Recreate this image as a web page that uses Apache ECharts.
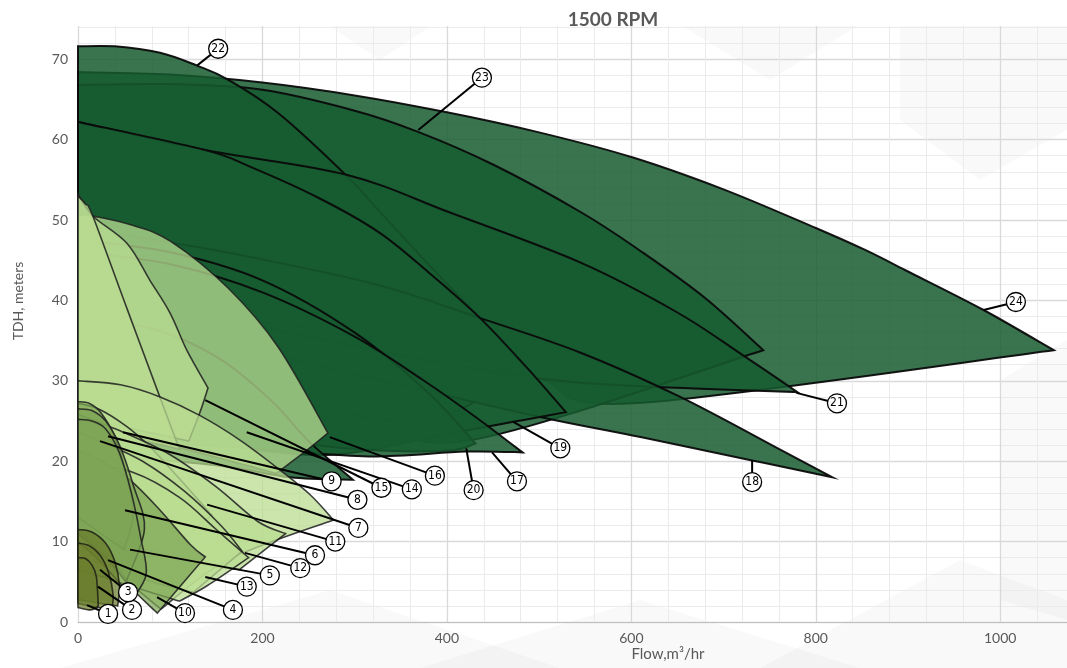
<!DOCTYPE html>
<html><head><meta charset="utf-8">
<script src="https://cdn.jsdelivr.net/npm/echarts@6/dist/echarts.min.js"></script>
<style>html,body{margin:0;padding:0;background:#fff}#c{width:1067px;height:668px}</style>
</head><body><div id="c"></div>
<script>
// ---- data (Flow m3/hr, TDH m) ----
const r24 = [[0,68.4],[100,68.1],[200,67.1],[300,65.5],[400,63.4],[500,60.9],[601,57.8],[700,53.8],[800,49.0],[853,46.3],[900,43.6],[982,38.8],[1058,33.8],[602,27.2],[500,30.3],[400,33.0],[250,36.5],[100,38.5],[0,39.5]];
const r23 = [[0,66.8],[100,66.9],[200,66.2],[300,63.6],[368,61.0],[450,56.9],[545,51.0],[608,46.3],[680,40.3],[743,33.8],[425,22.6],[300,25.5],[150,28.0],[0,29.5]];
const r22 = [[0,71.6],[40,71.6],[89,70.8],[129,69.2],[162,67.5],[217,63.3],[293,55.3],[326,51.2],[380,44.5],[436,37.8],[487,31.6],[380,25.0],[250,27.0],[120,28.5],[0,29.5]];
const r21 = [[0,62.2],[138,58.7],[292,55.6],[404,50.9],[545,44.7],[650,38.5],[722,33.1],[780,28.6],[675,29.0],[566,29.6],[499,30.3],[404,32.0],[241,35.7],[0,41.3]];
const r20 = [[0,47.5],[100,46.0],[200,42.5],[300,36.0],[380,28.5],[431,22.2],[400,21.3],[300,21.5],[150,23.5],[0,25.5]];
const r19 = [[0,62.2],[138,58.7],[187,56.6],[260,52.8],[326,48.5],[380,43.5],[436,37.8],[487,31.6],[529,26.1],[472,24.9],[400,23.4],[274,20.8],[150,22.0],[0,24.0]];
const r18 = [[0,49.0],[105,47.1],[187,45.4],[326,41.9],[436,37.8],[545,33.5],[653,28.0],[762,21.4],[818,18.0],[731,20.1],[610,23.0],[501,25.5],[349,29.5],[187,33.8],[0,37.6]];
const r17 = [[0,46.0],[100,44.5],[200,41.0],[300,35.5],[374,30.1],[430,25.6],[482,21.1],[420,21.2],[315,20.6],[200,21.5],[0,23.0]];
const r16 = [[0,50.6],[16,50.5],[60,49.3],[101,47.3],[163,41.5],[217,34.2],[271,23.5],[244,21.0],[215,18.5],[150,20.5],[80,22.5],[0,24.0]];
const r15 = [[0,53.2],[16,50.5],[53,47.1],[78,42.5],[100,38.4],[118,33.8],[141,29.1],[132,26.0],[120,22.5],[80,23.5],[40,24.5],[0,25.0]];
const r14 = [[0,38.0],[80,36.5],[150,33.0],[210,27.5],[250,22.5],[298,17.7],[230,18.0],[150,19.5],[0,21.0]];
const r13 = [[0,20.0],[60,18.6],[110,15.5],[150,11.5],[185,8.0],[140,4.5],[110,2.6],[70,4.0],[30,5.5],[0,6.5]];
const r12 = [[0,30.0],[46,29.5],[89,28.0],[132,25.7],[176,22.6],[219,18.9],[252,15.8],[277,12.7],[162,7.7],[90,1.6],[60,4.5],[40,7.0],[0,9.0]];
const r11 = [[0,27.2],[24,26.4],[53,24.3],[78,21.8],[111,17.7],[145,13.3],[113,10.4],[81,8.1],[40,8.8],[0,9.5]];
const r10 = [[0,21.4],[24,20.1],[56,17.7],[89,13.9],[122,9.6],[138,8.1],[86,1.1],[60,4.0],[42,6.8],[13,10.2],[0,11.4]];
const r9 = [[0,25.8],[49,23.6],[100,20.8],[150,16.8],[195,12.5],[225,11.0],[175,6.5],[120,7.5],[60,9.5],[0,11.0]];
const r8 = [[0,53.0],[8,52.0],[16,50.5],[53,39.0],[90,27.6],[110,21.5],[70,22.5],[33,23.1],[0,24.0]];
const r7 = [[0,23.6],[24,22.5],[70,20.0],[115,16.3],[155,12.0],[178,8.8],[125,3.7],[80,5.0],[40,6.8],[0,8.0]];
const r6 = [[0,27.4],[12,27.2],[25,26.0],[40,23.0],[52,18.5],[60,13.5],[50,9.0],[25,11.0],[0,13.0]];
const r5 = [[0,26.5],[15,26.3],[30,25.0],[45,22.0],[60,17.0],[72,11.5],[52,5.0],[30,8.0],[0,11.0]];
const r4 = [[0,25.2],[15,25.0],[30,24.0],[45,21.0],[58,16.0],[68,10.5],[74,6.0],[60,3.0],[40,5.5],[20,8.0],[0,10.0]];
const r3 = [[0,11.5],[15,11.2],[30,9.8],[40,7.5],[45,4.5],[43,2.0],[25,2.3],[0,2.8]];
const r2 = [[0,9.8],[12,9.5],[24,8.3],[33,6.2],[38,3.5],[37,1.6],[22,1.8],[0,2.3]];
const r1 = [[0,8.0],[8,7.9],[15,7.1],[20,5.6],[22,2.0],[14,1.5],[0,1.8]];

const labelNums = [1,2,3,4,5,6,7,8,9,10,11,12,13,14,15,16,17,18,19,20,21,22,23,24];
const labelPos = [[32.6,1.0],[58.6,1.5],[54.3,3.7],[168,1.5],[208,5.8],[257,8.3],[304,11.7],[303,15.2],[275,17.5],[116,1.1],[279,10.0],[241,6.7],[183,4.4],[362,16.5],[329,16.7],[387,18.2],[476,17.5],[731,17.4],[523,21.6],[429,16.4],[823,27.2],[152,71.3],[438,67.7],[1017,39.8]];
const labelAnchor = [[9.8,2.1],[21.7,4.4],[23.9,6.5],[32.6,7.7],[56.4,9.0],[51,13.9],[23.9,22.5],[32.6,23.1],[48.8,23.6],[85.7,3.1],[140,14.6],[181,8.6],[138,5.6],[183,23.6],[138,27.6],[273,23.0],[449,21.1],[731,20.1],[472,24.9],[421,21.6],[779,28.5],[129,69.2],[369,61.2],[982,38.8]];

const xTicks = [0,200,400,600,800,1000];
const yTicks = [0,10,20,30,40,50,60,70];

// ---- styling / assembly ----
const regions = {1:r1,2:r2,3:r3,4:r4,5:r5,6:r6,7:r7,8:r8,9:r9,10:r10,11:r11,12:r12,13:r13,14:r14,15:r15,16:r16,17:r17,18:r18,19:r19,20:r20,21:r21,22:r22,23:r23,24:r24};
const drawOrder = [24,23,22,21,18,19,20,17,14,16,15,8,12,11,9,7,13,10,6,5,4,3,2,1];
const darkSet = new Set([14,17,18,19,20,21,22,23,24]);
const medSet = new Set([4,5,6,10]);
const oliveSet = new Set([1,2,3]);
function styleFor(n){
  if (darkSet.has(n)) return {fill:'rgba(22,92,48,0.85)', stroke:'rgba(10,10,10,0.95)', lineWidth:2};
  if (oliveSet.has(n)) return {fill:'rgba(105,125,45,0.72)', stroke:'rgba(30,30,20,0.85)', lineWidth:1.6};
  if (medSet.has(n)) return {fill:'rgba(125,165,85,0.72)', stroke:'rgba(30,30,30,0.85)', lineWidth:1.6};
  return {fill:'rgba(185,220,145,0.75)', stroke:'rgba(30,30,30,0.85)', lineWidth:1.6};
}

// smooth closed outline through pixel points, keeping sharp corners
function smoothPath(P){
  const n = P.length;
  const corner = P.map((p,i)=>{
    const a = P[(i-1+n)%n], b = P[(i+1)%n];
    const v1=[p[0]-a[0],p[1]-a[1]], v2=[b[0]-p[0],b[1]-p[1]];
    const l1=Math.hypot(v1[0],v1[1]), l2=Math.hypot(v2[0],v2[1]);
    if (l1<1e-6||l2<1e-6) return true;
    const c=(v1[0]*v2[0]+v1[1]*v2[1])/(l1*l2);
    return Math.acos(Math.max(-1,Math.min(1,c))) > 0.75;
  });
  let s = 'M'+P[0][0].toFixed(1)+' '+P[0][1].toFixed(1);
  for (let i=0;i<n;i++){
    const p1=P[i], p2=P[(i+1)%n];
    const p0 = corner[i] ? p1 : P[(i-1+n)%n];
    const p3 = corner[(i+1)%n] ? p2 : P[(i+2)%n];
    const c1=[p1[0]+(p2[0]-p0[0])/6, p1[1]+(p2[1]-p0[1])/6];
    const c2=[p2[0]-(p3[0]-p1[0])/6, p2[1]-(p3[1]-p1[1])/6];
    s += ' C'+c1[0].toFixed(1)+' '+c1[1].toFixed(1)+' '+c2[0].toFixed(1)+' '+c2[1].toFixed(1)+' '+p2[0].toFixed(1)+' '+p2[1].toFixed(1);
  }
  return s+' Z';
}

const chart = echarts.init(document.getElementById('c'), null, {renderer:'canvas'});
const W = 1067, H = 668;
const gl = 78, gb = 46;
const pxPerX = 0.9222, pxPerY = 8.04;
const xMax = 1200, yMax = 80;
const gWidth = xMax*pxPerX;
const gHeight = yMax*pxPerY;
const gTop = (H - gb) - gHeight;

const bgShapes = [
  [[290,0],[470,0],[380,60]],
  [[640,0],[900,0],[770,80]],
  [[900,0],[1067,0],[1067,130],[980,180],[900,120]],
  [[1000,380],[1067,340],[1067,620],[1000,600]],
  [[60,668],[330,590],[560,668]],
  [[420,668],[640,600],[860,668]],
  [[760,668],[960,560],[1067,600],[1067,668]]
];

chart.setOption({
  animation:false,
  backgroundColor:'#ffffff',
  grid:{left:gl, top:gTop, width:gWidth, height:gHeight, outerBoundsMode:'none', containLabel:false},
  title:{text:'1500 RPM', left:608, top:5, textAlign:'center',
    textStyle:{fontFamily:'Lato', fontWeight:'bold', fontSize:19, color:'#595959'}, z:20},
  xAxis:{type:'value', min:0, max:xMax, interval:200,
    axisLine:{show:true, lineStyle:{color:'#bfbfbf', width:1}},
    axisTick:{show:false},
    axisLabel:{color:'#595959', fontSize:14, fontFamily:'Lato', margin:9,
      formatter:v=> xTicks.indexOf(v)>=0 ? String(v) : ''},
    splitLine:{show:true, lineStyle:{color:'#d9d9d9', width:1.3}},
    minorTick:{show:false, splitNumber:5},
    minorSplitLine:{show:true, lineStyle:{color:'#ebebeb', width:1}}
  },
  yAxis:{type:'value', min:0, max:yMax, interval:10,
    axisLine:{show:false},
    axisTick:{show:false},
    axisLabel:{color:'#595959', fontSize:14, fontFamily:'Lato', margin:10,
      formatter:v=> yTicks.indexOf(v)>=0 ? String(v) : ''},
    splitLine:{show:true, lineStyle:{color:'#d9d9d9', width:1.3}},
    minorTick:{show:false, splitNumber:5},
    minorSplitLine:{show:true, lineStyle:{color:'#ebebeb', width:1}}
  },
  graphic:[
    ...bgShapes.map(p=>({type:'polygon', shape:{points:p}, style:{fill:'rgba(0,0,0,0.025)'}, z:-1, silent:true})),
    {type:'rect', shape:{x:0,y:0,width:W,height:26}, style:{fill:'#ffffff'}, z:5, silent:true},
    {type:'text', x:18, y:301, rotation:Math.PI/2, style:{text:'TDH, meters', fill:'#595959', font:'14px Lato', textAlign:'center', textVerticalAlign:'middle'}, z:20},
    {type:'text', x:668, y:654, style:{text:'Flow,m³/hr', fill:'#595959', font:'15px Lato', textAlign:'center', textVerticalAlign:'middle'}, z:20}
  ],
  series:[
    {type:'custom', coordinateSystem:'cartesian2d', z:2, silent:true, clip:false,
      data: drawOrder.map(n=>[n]),
      renderItem:function(params, api){
        const n = api.value(0);
        const pts = regions[n].map(p=>api.coord(p));
        return {type:'path', shape:{pathData:smoothPath(pts)}, style:styleFor(n)};
      }
    },
    {type:'custom', coordinateSystem:'cartesian2d', z:3, silent:true, clip:false,
      data: labelNums.map((n,i)=>[i]),
      renderItem:function(params, api){
        const i = api.value(0);
        const a = api.coord(labelAnchor[i]);
        const b = api.coord(labelPos[i]);
        return {type:'line', shape:{x1:a[0],y1:a[1],x2:b[0],y2:b[1]}, style:{stroke:'#000', lineWidth:2}};
      }
    },
    {type:'scatter', z:4, silent:true, symbol:'circle', symbolSize:19,
      data: labelPos.map((p,i)=>({value:p, name:String(labelNums[i])})),
      itemStyle:{color:'#ffffff', borderColor:'#000', borderWidth:1.3, opacity:1},
      label:{show:true, position:'inside', formatter:'{b}', color:'#000', fontSize:12,
        fontFamily:"'Liberation Sans Narrow','DejaVu Sans Condensed',Roboto,sans-serif"}
    }
  ]
});
</script></body></html>
